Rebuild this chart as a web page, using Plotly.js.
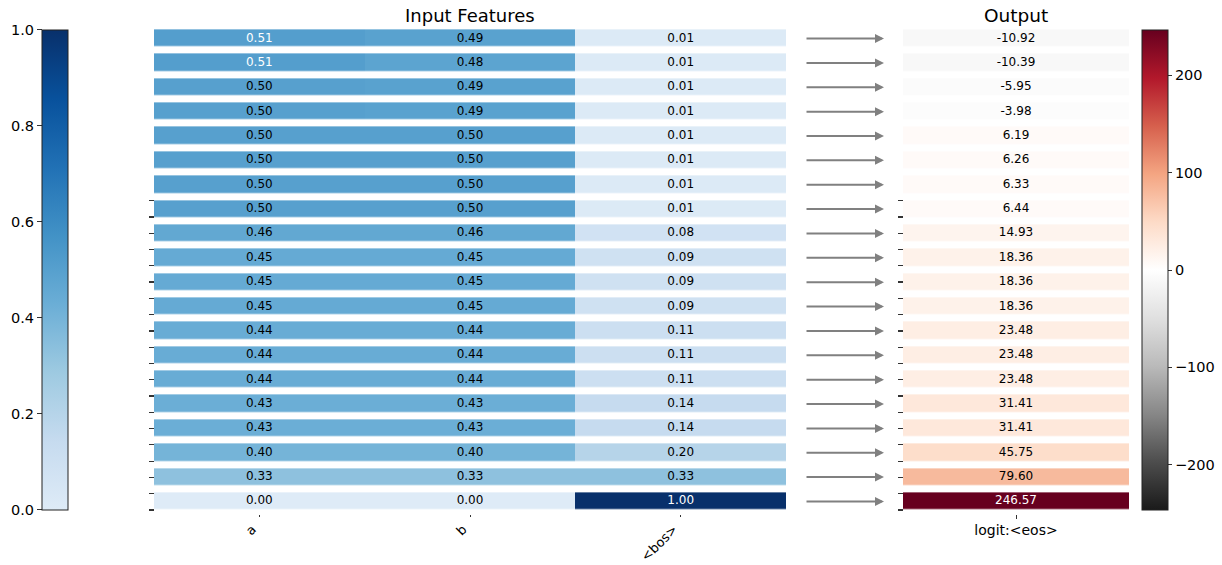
<!DOCTYPE html>
<html>
<head>
<meta charset="utf-8">
<script src="https://cdn.plot.ly/plotly-3.0.1.min.js"></script>
<style>html,body{margin:0;padding:0;background:#fff}#chart{width:1222px;height:565px}</style>
</head>
<body>
<div id="chart"></div>
<script>
// ---- data ----
const features = ['a', 'b', '<bos>'];
const featA   = [0.51,0.51,0.50,0.50,0.50,0.50,0.50,0.50,0.46,0.45,0.45,0.45,0.44,0.44,0.44,0.43,0.43,0.40,0.33,0.00];
const featB   = [0.49,0.48,0.49,0.49,0.50,0.50,0.50,0.50,0.46,0.45,0.45,0.45,0.44,0.44,0.44,0.43,0.43,0.40,0.33,0.00];
const featBos = [0.01,0.01,0.01,0.01,0.01,0.01,0.01,0.01,0.08,0.09,0.09,0.09,0.11,0.11,0.11,0.14,0.14,0.20,0.33,1.00];
const outputLabel = 'logit:<eos>';
const outputVals = [-10.92,-10.39,-5.95,-3.98,6.19,6.26,6.33,6.44,14.93,18.36,18.36,18.36,23.48,23.48,23.48,31.41,31.41,45.75,79.60,246.57];
const featTicks = [0, 0.2, 0.4, 0.6, 0.8, 1.0];
const outTicks = [-200, -100, 0, 100, 200];

// ---- geometry helpers ----
const W = 1222, H = 565;
const px = v => v / W;
const py = v => 1 - v / H;
const esc = s => s.replace(/</g, '&lt;').replace(/>/g, '&gt;');
const fmtNeg = v => (v < 0 ? '\u2212' + Math.abs(v) : String(v));

const nRows = outputVals.length;
const rowIdx = outputVals.map((_, i) => i);
const bandTop = 30, bandBot = 510;
const pitch = (bandBot - bandTop) / (nRows - 0.3);   // band + gap
const gap = pitch * 0.3;
const domTop = bandTop - gap / 2, domBot = bandBot + gap / 2;
const yDomain = [py(domBot), py(domTop)];

const featCols = [featA, featB, featBos];
const zFeat = rowIdx.map(i => featCols.map(c => c[i]));
const zOut = rowIdx.map(i => [outputVals[i]]);
const omax = Math.max(...outputVals.map(Math.abs));

const bluesTrunc = [
  [0.0, 'rgb(222,235,247)'], [0.1429, 'rgb(198,219,239)'], [0.2857, 'rgb(158,202,225)'],
  [0.4286, 'rgb(107,174,214)'], [0.5714, 'rgb(66,146,198)'], [0.7143, 'rgb(33,113,181)'],
  [0.8571, 'rgb(8,81,156)'], [1.0, 'rgb(8,48,107)']
];
const rdgyR = [
  [0.0, 'rgb(26,26,26)'], [0.1, 'rgb(77,77,77)'], [0.2, 'rgb(135,135,135)'], [0.3, 'rgb(186,186,186)'],
  [0.4, 'rgb(224,224,224)'], [0.5, 'rgb(255,255,255)'], [0.6, 'rgb(253,219,199)'], [0.7, 'rgb(244,165,130)'],
  [0.8, 'rgb(214,96,77)'], [0.9, 'rgb(178,24,43)'], [1.0, 'rgb(103,0,31)']
];

const FONT = 'DejaVu Sans, sans-serif';

// text labels for cells
const txX = [], txY = [], txT = [], txC = [];
rowIdx.forEach(i => featCols.forEach((c, j) => {
  txX.push(features[j]); txY.push(i); txT.push(c[i].toFixed(2));
  txC.push(c[i] >= 0.505 ? '#ffffff' : '#000000');
}));

const traces = [
  {
    type: 'heatmap', x: features, y: rowIdx, z: zFeat, xaxis: 'x', yaxis: 'y',
    colorscale: bluesTrunc, zmin: 0, zmax: 1, ygap: gap, hoverinfo: 'skip',
    colorbar: {
      x: px(42), xanchor: 'left', xpad: 0, ypad: 0, thickness: 26, thicknessmode: 'pixels',
      len: bandBot - bandTop, lenmode: 'pixels', y: py((bandTop + bandBot) / 2), yanchor: 'middle',
      outlinewidth: 1, outlinecolor: '#222', showticklabels: false, ticks: ''
    }
  },
  {
    type: 'scatter', mode: 'text', x: txX, y: txY, text: txT, xaxis: 'x', yaxis: 'y',
    textfont: { family: FONT, size: 12, color: txC }, hoverinfo: 'skip', showlegend: false
  },
  {
    type: 'heatmap', x: [outputLabel], y: rowIdx, z: zOut, xaxis: 'x2', yaxis: 'y',
    colorscale: rdgyR, zmin: -omax, zmax: omax, ygap: gap, hoverinfo: 'skip',
    colorbar: {
      x: px(1142), xanchor: 'left', xpad: 0, ypad: 0, thickness: 26, thicknessmode: 'pixels',
      len: bandBot - bandTop, lenmode: 'pixels', y: py((bandTop + bandBot) / 2), yanchor: 'middle',
      outlinewidth: 1, outlinecolor: '#222',
      tickvals: outTicks, ticktext: outTicks.map(fmtNeg), ticks: 'outside', ticklen: 4,
      tickcolor: '#333', tickfont: { family: FONT, size: 14.5, color: '#000' }
    }
  },
  {
    type: 'scatter', mode: 'text', x: rowIdx.map(() => outputLabel), y: rowIdx,
    text: outputVals.map(v => v.toFixed(2)), xaxis: 'x2', yaxis: 'y',
    textfont: { family: FONT, size: 12, color: outputVals.map(v => Math.abs(v) > 150 ? '#ffffff' : '#000000') },
    hoverinfo: 'skip', showlegend: false
  },
  // invisible helpers so the decorative axes are drawn
  { type: 'scatter', mode: 'markers', x: [features[0]], y: [300], xaxis: 'x', yaxis: 'y3', marker: { opacity: 0 }, hoverinfo: 'skip', showlegend: false },
  { type: 'scatter', mode: 'markers', x: [outputLabel], y: [300], xaxis: 'x2', yaxis: 'y4', marker: { opacity: 0 }, hoverinfo: 'skip', showlegend: false },
  { type: 'scatter', mode: 'markers', x: [features[0]], y: [0.5], xaxis: 'x', yaxis: 'y5', marker: { opacity: 0 }, hoverinfo: 'skip', showlegend: false }
];

// decorative small tick marks (pixel positions)
const smallTicks = [];
for (let k = 0; k < nRows; k++) smallTicks.push(510 - 16.28 * k);

const decoAxis = pos => ({
  overlaying: 'y', anchor: 'free', position: pos, side: 'left',
  range: [domBot, domTop], tickvals: smallTicks, showticklabels: false,
  ticks: 'outside', ticklen: 5, tickwidth: 1.2, tickcolor: '#333',
  showgrid: false, zeroline: false, showline: false, fixedrange: true
});

const annotations = [
  { text: 'Input Features', xref: 'paper', yref: 'paper', x: px(470), y: py(15), showarrow: false,
    xanchor: 'center', yanchor: 'middle', font: { family: FONT, size: 18, color: '#000' } },
  { text: 'Output', xref: 'paper', yref: 'paper', x: px(1016), y: py(15), showarrow: false,
    xanchor: 'center', yanchor: 'middle', font: { family: FONT, size: 18.5, color: '#000' } }
];
rowIdx.forEach(i => annotations.push({
  xref: 'paper', yref: 'y', x: px(884), y: i, ax: -79, ay: 0, axref: 'pixel', ayref: 'pixel',
  text: '', showarrow: true, arrowhead: 2, arrowsize: 0.9, arrowwidth: 2, arrowcolor: '#808080'
}));

const span = bandBot - bandTop;
const layout = {
  width: W, height: H, margin: { l: 0, r: 0, t: 0, b: 0 },
  paper_bgcolor: '#fff', plot_bgcolor: 'rgba(0,0,0,0)', showlegend: false,
  font: { family: FONT, color: '#000' },
  xaxis: {
    domain: [px(154), px(786)], anchor: 'y', type: 'category',
    tickvals: features, ticktext: features.map(esc), tickangle: -45, ticklabelshift: -7,
    ticks: 'outside', ticklen: 2, tickcolor: '#333', tickfont: { family: FONT, size: 13, color: '#000' },
    showgrid: false, zeroline: false, showline: false, fixedrange: true
  },
  xaxis2: {
    domain: [px(903), px(1129)], anchor: 'y', type: 'category',
    tickvals: [outputLabel], ticktext: [esc(outputLabel)], tickangle: 0,
    ticks: 'outside', ticklen: 4, tickcolor: '#333', tickfont: { family: FONT, size: 14, color: '#000' },
    showgrid: false, zeroline: false, showline: false, fixedrange: true
  },
  yaxis: {
    domain: yDomain, range: [nRows - 0.5, -0.5], showticklabels: false, ticks: '',
    showgrid: false, zeroline: false, showline: false, fixedrange: true
  },
  yaxis3: decoAxis(px(154)),
  yaxis4: decoAxis(px(903)),
  yaxis5: {
    overlaying: 'y', anchor: 'free', position: px(42), side: 'left',
    range: [-(domBot - bandBot) / span, 1 + (bandTop - domTop) / span],
    tickvals: featTicks, ticktext: featTicks.map(v => v.toFixed(1)),
    ticks: 'outside', ticklen: 5, tickwidth: 1, tickcolor: '#333',
    tickfont: { family: FONT, size: 14.5, color: '#000' },
    showgrid: false, zeroline: false, showline: false, fixedrange: true
  },
  annotations: annotations
};

Plotly.newPlot('chart', traces, layout, { displayModeBar: false, staticPlot: true });
</script>
</body>
</html>
